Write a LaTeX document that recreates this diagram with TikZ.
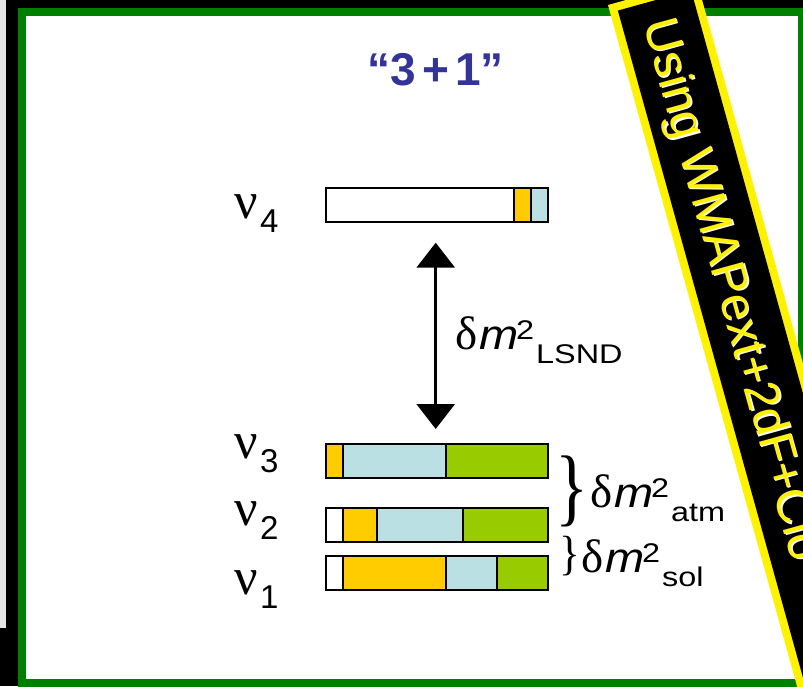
\documentclass[tikz,border=0pt]{standalone}
\usepackage{fontspec}
\setmainfont{Liberation Sans}
\newfontfamily\serif{Liberation Serif}
\usetikzlibrary{arrows.meta}
\definecolor{barY}{RGB}{255,204,0}
\definecolor{barB}{RGB}{187,224,227}
\definecolor{barG}{RGB}{153,204,0}
\definecolor{frameG}{RGB}{0,128,0}
\definecolor{titleB}{RGB}{51,51,153}
\definecolor{edgeGray}{RGB}{230,230,230}
\newcommand\fsz[1]{\fontsize{#1}{#1}\selectfont}
% delta m^2 with subscript #1
\newcommand\dmsq[1]{\rlap{\serif\fsz{47}δ}\hspace{24pt}\rlap{\itshape\fsz{42}\scalebox{1.12}[1]{m}}\hspace{37pt}\rlap{\raisebox{10pt}{\fsz{27}\scalebox{1.2}[1]{2}}}\hspace{20pt}\raisebox{-14pt}{\fsz{27}\scalebox{1.2}[1]{#1}}}
\tikzset{
  seg/.style={draw=black, line width=1.2pt},
  barbox/.style={draw=black, line width=2.2pt, minimum width=222pt, minimum height=34pt, inner sep=0pt},
  lbl/.style={anchor=base west, inner sep=0pt},
  nulbl/.style={lbl, font=\serif\fsz{52}},
  sublbl/.style={lbl, font=\fsz{33}},
  bannertext/.style={rotate=-74.49, anchor=base west, inner sep=0pt, font=\fsz{48}},
  tipT/.tip={Triangle[width=38pt,length=25pt]}
}
\begin{document}
\begin{tikzpicture}[x=1pt,y=-1pt]
\useasboundingbox (0,0) rectangle (803,686);
\clip (0,0) rectangle (803,686);
% frame
\fill[black] (0,0) rectangle (803,686);
\fill[edgeGray] (0,0) rectangle (6,628);
\fill[frameG] (18,8) rectangle (812,688);
\fill[white] (26,16) rectangle (798,679);

% title
\node[anchor=base, inner sep=0pt, text=titleB, font=\bfseries\fsz{46}] (title) at (436,85) {“3\kern6pt+\kern6pt1”};

% bar nu4
\filldraw[seg, fill=white] (326,188) rectangle (514,222);
\filldraw[seg, fill=barY] (514,188) rectangle (531,222);
\filldraw[seg, fill=barB] (531,188) rectangle (548,222);
\node[barbox] (b4) at (437,205) {};
% bar nu3
\filldraw[seg, fill=barY] (326,444) rectangle (343,478);
\filldraw[seg, fill=barB] (343,444) rectangle (446,478);
\filldraw[seg, fill=barG] (446,444) rectangle (548,478);
\node[barbox] (b3) at (437,461) {};
% bar nu2
\filldraw[seg, fill=white] (326,508) rectangle (343,542);
\filldraw[seg, fill=barY] (343,508) rectangle (377,542);
\filldraw[seg, fill=barB] (377,508) rectangle (463,542);
\filldraw[seg, fill=barG] (463,508) rectangle (548,542);
\node[barbox] (b2) at (437,525) {};
% bar nu1
\filldraw[seg, fill=white] (326,556) rectangle (343,590);
\filldraw[seg, fill=barY] (343,556) rectangle (446,590);
\filldraw[seg, fill=barB] (446,556) rectangle (497,590);
\filldraw[seg, fill=barG] (497,556) rectangle (548,590);
\node[barbox] (b1) at (437,573) {};

% labels nu
\node[nulbl] (nu4) at (234,218) {ν};
\node[sublbl] (s4) at (260,232) {4};
\node[nulbl] (nu3) at (234,458) {ν};
\node[sublbl] (s3) at (260,472) {3};
\node[nulbl] (nu2) at (234,525) {ν};
\node[sublbl] (s2) at (260,539) {2};
\node[nulbl] (nu1) at (234,594) {ν};
\node[sublbl] (s1) at (260,608) {1};

% arrow
\coordinate (atop) at (435.7,242.7);
\coordinate (abot) at (435.7,429);
\draw[line width=3pt, tipT-tipT] (atop) -- (abot);

% delta m labels
\node[lbl] (lsnd) at (455,349) {\dmsq{LSND}};
\node[lbl] (atm) at (590,507) {\dmsq{atm}};
\node[lbl] (sol) at (581,572) {\dmsq{sol}};

% braces
\node[inner sep=0pt, font=\serif\fsz{86}] (bratm) at (572,491.5) {\scalebox{0.8}[1]{\}}};
\node[inner sep=0pt, font=\serif\fsz{48}] (brsol) at (570,556) {\scalebox{0.9}[1]{\}}};

% banner
\fill[yellow] (608,5) -- (696.65,-19.6) -- (910.6,751.3) -- (821.9,775.9) -- cycle;
\fill[black] (617.85,10.57) -- (691.08,-9.75) -- (900.7,745.7) -- (827.5,766.0) -- cycle;
\node[bannertext, text=white] (bannershadow) at (644.5,24.5) {Using WMAPext+2dF+Clo};
\node[bannertext, text=yellow] (banner) at (643,23.3) {Using WMAPext+2dF+Clo};
\end{tikzpicture}
\end{document}
